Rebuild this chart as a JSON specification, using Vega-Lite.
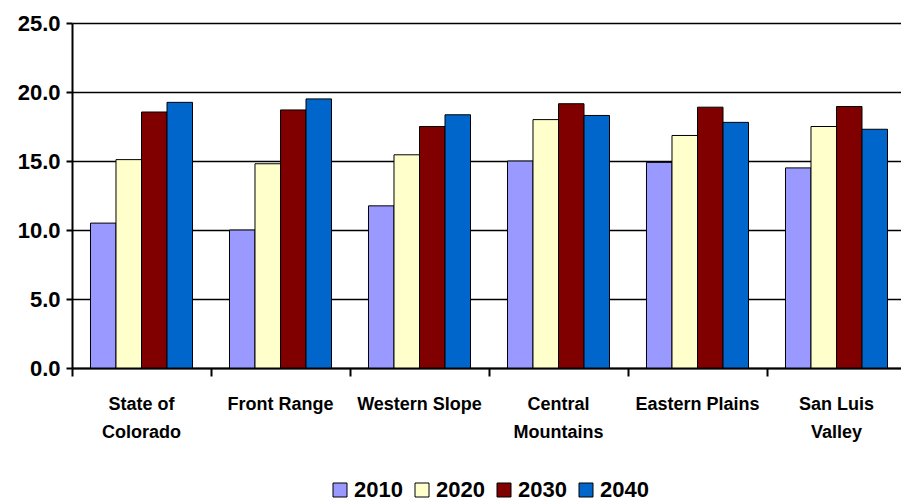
{
  "$schema": "https://vega.github.io/schema/vega-lite/v6.json",
  "width": 834,
  "height": 345,
  "autosize": {"type": "none"},
  "padding": {"left": 72, "top": 23, "right": 0, "bottom": 134},
  "background": "white",
  "config": {
    "view": {"stroke": null},
    "font": "Liberation Sans",
    "axis": {
      "domainColor": "black",
      "domainWidth": 2,
      "tickColor": "black",
      "tickWidth": 2,
      "labelColor": "black",
      "labelFont": "Liberation Sans",
      "labelFontWeight": "bold",
      "title": null
    }
  },
  "data": {
    "values": [
      {"region": "State of Colorado", "year": "2010", "value": 10.5},
      {"region": "State of Colorado", "year": "2020", "value": 15.1},
      {"region": "State of Colorado", "year": "2030", "value": 18.55},
      {"region": "State of Colorado", "year": "2040", "value": 19.25},
      {"region": "Front Range", "year": "2010", "value": 10.0},
      {"region": "Front Range", "year": "2020", "value": 14.8},
      {"region": "Front Range", "year": "2030", "value": 18.7},
      {"region": "Front Range", "year": "2040", "value": 19.5},
      {"region": "Western Slope", "year": "2010", "value": 11.75},
      {"region": "Western Slope", "year": "2020", "value": 15.45},
      {"region": "Western Slope", "year": "2030", "value": 17.5},
      {"region": "Western Slope", "year": "2040", "value": 18.35},
      {"region": "Central Mountains", "year": "2010", "value": 15.0},
      {"region": "Central Mountains", "year": "2020", "value": 18.0},
      {"region": "Central Mountains", "year": "2030", "value": 19.15},
      {"region": "Central Mountains", "year": "2040", "value": 18.3},
      {"region": "Eastern Plains", "year": "2010", "value": 14.9},
      {"region": "Eastern Plains", "year": "2020", "value": 16.85},
      {"region": "Eastern Plains", "year": "2030", "value": 18.9},
      {"region": "Eastern Plains", "year": "2040", "value": 17.8},
      {"region": "San Luis Valley", "year": "2010", "value": 14.5},
      {"region": "San Luis Valley", "year": "2020", "value": 17.5},
      {"region": "San Luis Valley", "year": "2030", "value": 18.95},
      {"region": "San Luis Valley", "year": "2040", "value": 17.3}
    ]
  },
  "mark": {"type": "bar", "stroke": "black", "strokeWidth": 1},
  "encoding": {
    "x": {
      "field": "region",
      "type": "nominal",
      "sort": null,
      "scale": {"paddingInner": 0, "paddingOuter": 0},
      "axis": {
        "labelAngle": 0,
        "bandPosition": 0,
        "tickSize": 8,
        "labelPadding": 19,
        "labelBaseline": "top",
        "labelFontSize": 18,
        "labelLineHeight": 28,
        "labelExpr": "datum.label == 'State of Colorado' ? ['State of', 'Colorado'] : datum.label == 'Central Mountains' ? ['Central', 'Mountains'] : datum.label == 'San Luis Valley' ? ['San Luis', 'Valley'] : datum.label"
      }
    },
    "xOffset": {
      "field": "year",
      "type": "nominal",
      "scale": {"paddingInner": 0, "paddingOuter": 0.725}
    },
    "y": {
      "field": "value",
      "type": "quantitative",
      "scale": {"domain": [0, 25], "nice": false},
      "axis": {
        "values": [0, 5, 10, 15, 20, 25],
        "format": ".1f",
        "grid": true,
        "gridColor": "black",
        "gridWidth": 1.5,
        "gridOpacity": 1,
        "tickSize": 6,
        "labelPadding": 6,
        "labelFontSize": 22
      }
    },
    "color": {
      "field": "year",
      "type": "nominal",
      "scale": {"range": ["#9999FF", "#FFFFCC", "#800000", "#0066CC"]},
      "legend": {
        "orient": "none",
        "legendX": 257,
        "legendY": 456,
        "direction": "horizontal",
        "title": null,
        "symbolType": "square",
        "symbolSize": 196,
        "symbolStrokeColor": "black",
        "symbolStrokeWidth": 1,
        "labelFont": "Liberation Sans",
        "labelFontWeight": "bold",
        "labelFontSize": 22,
        "labelColor": "black",
        "columnPadding": 8,
        "labelOffset": 3
      }
    }
  }
}
